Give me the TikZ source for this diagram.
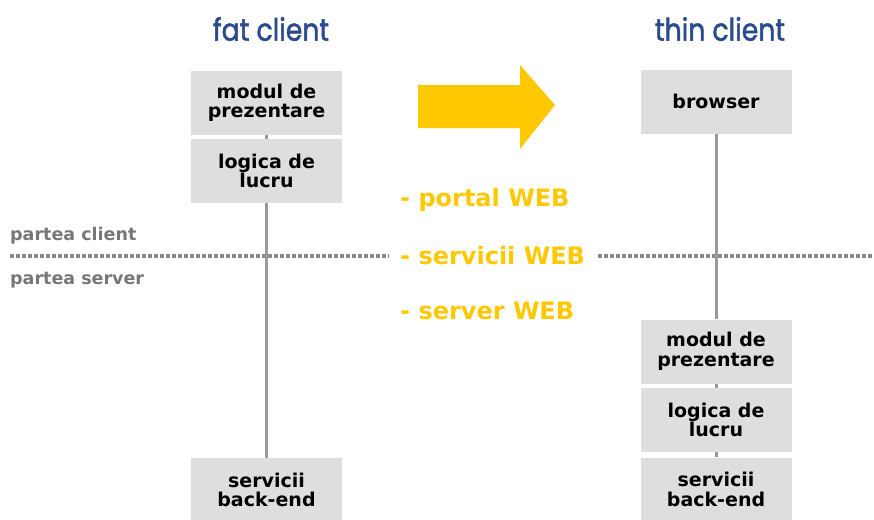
\documentclass[tikz,border=0pt]{standalone}
\usepackage{fontspec}
\newfontfamily\boxfont{DejaVu Sans}
\newfontfamily\titlefont{Poppins}[FakeStretch=0.86,FakeBold=1.6]
\definecolor{boxgrey}{HTML}{DEDEDE}
\definecolor{linegrey}{HTML}{9A9A9A}
\definecolor{dashgrey}{HTML}{8A8A8A}
\definecolor{sidegrey}{HTML}{777777}
\definecolor{titleblue}{HTML}{2A4B8D}
\definecolor{webyellow}{HTML}{FFC800}
\begin{document}
\begin{tikzpicture}[x=1pt,y=-1pt,
  tier/.style={fill=boxgrey, draw=none, minimum width=151pt, minimum height=64pt,
    inner sep=0pt, align=center, font=\boxfont\bfseries\fontsize{19}{19.5}\selectfont},
  title/.style={text=titleblue, font=\titlefont\fontsize{31}{32}\selectfont, inner sep=0pt},
  side/.style={text=sidegrey, anchor=west, inner sep=0pt, font=\boxfont\bfseries\fontsize{17.5}{18}\selectfont},
  web/.style={text=webyellow, anchor=west, inner sep=0pt, font=\boxfont\bfseries\fontsize{24}{25}\selectfont},
  link/.style={draw=linegrey, line width=3pt},
  divider/.style={draw=dashgrey, line width=4pt, dash pattern=on 4pt off 2pt}]
\useasboundingbox (0,0) rectangle (874,519);
\clip (0,0) rectangle (874,519);

% client/server divider
\coordinate (dl1) at (10,256);
\coordinate (dl2) at (389,256);
\coordinate (dr1) at (598,256);
\coordinate (dr2) at (874,256);
\draw[divider] (dl1) -- (dl2);
\draw[divider] (dr1) -- (dr2);
\node[side] (pc) at (10,236) {partea client};
\node[side] (ps) at (10,280) {partea server};

% fat client column
\node[title] (fat) at (271,29) {fat client};
\node[tier] (f1) at (266.5,103) {modul de\\prezentare};
\node[tier] (f2) at (266.5,171) {logica de\\lucru};
\node[tier] (f3) at (266.5,490) {servicii\\back-end};
\draw[link] (f1.south) -- (f2.north);
\draw[link] (f2.south) -- (f3.north);

% thin client column
\node[title] (thin) at (720,29) {thin client};
\node[tier] (t1) at (716,101.5) {browser};
\node[tier] (t2) at (716,351.5) {modul de\\prezentare};
\node[tier] (t3) at (716,420) {logica de\\lucru};
\node[tier] (t4) at (716,489.5) {servicii\\back-end};
\draw[link] (t1.south) -- (t2.north);
\draw[link] (t2.south) -- (t3.north);
\draw[link] (t3.south) -- (t4.north);

% transition arrow and web items
\fill[webyellow] (418,85) -- (520,85) -- (520,65) -- (555,105) -- (520,149)
  -- (520,128) -- (418,128) -- cycle;
\node[web] (w1) at (400,200) {- portal WEB};
\node[web] (w2) at (400,256) {- servicii WEB};
\node[web] (w3) at (400,311) {- server WEB};
\end{tikzpicture}
\end{document}
